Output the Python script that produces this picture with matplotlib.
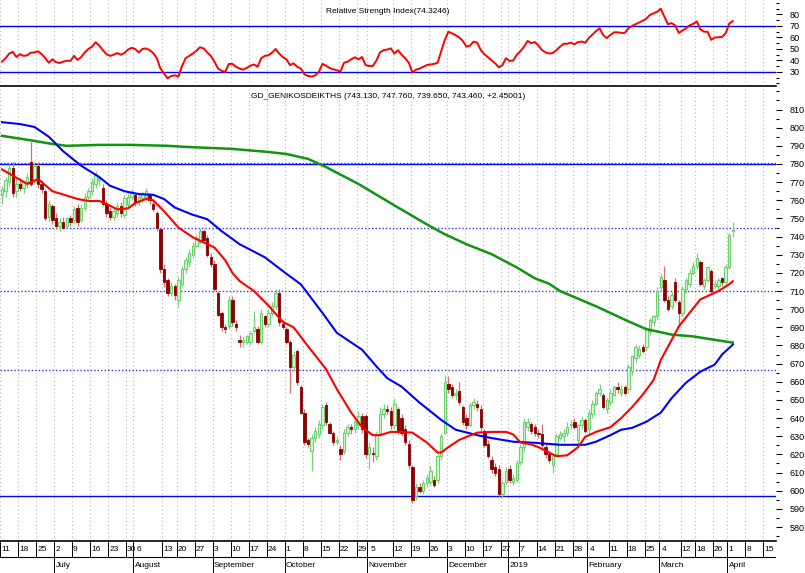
import numpy as np
import pandas as pd
import matplotlib
matplotlib.use('Agg')
import matplotlib.pyplot as plt
from matplotlib.ticker import MultipleLocator

plt.rcParams['font.family'] = ['Liberation Sans Narrow', 'Liberation Sans', 'DejaVu Sans']

# trading days (Athens exchange closed on these)
holidays = ['2018-08-15', '2018-12-24', '2018-12-25', '2018-12-26', '2018-12-31',
            '2019-01-01', '2019-03-11', '2019-03-25']
days = pd.bdate_range('2018-06-11', '2019-04-19')
days = days[~days.isin(pd.to_datetime(holidays))]

# daily candles, Jun 11 2018 .. Apr 2 2019, one row per week
opens = [763, 765, 770, 778, 765,  769, 767, 770, 781, 770,  779, 769, 765, 751, 757,
         750, 746, 748, 746, 750,  749, 756, 749, 756, 762,  765, 769, 771, 767, 758,
         754, 751, 753, 757, 752,  758, 762, 763, 759, 761,  762, 763, 758, 753, 744,
         722, 716, 709, 713,  705, 714, 722, 726, 730,  735, 737, 743, 739, 729,
         725, 709, 698, 690, 691,  705, 692, 683, 682, 682,  682, 688, 689, 682, 696,
         692, 698, 702, 709, 692,  689, 682, 668, 677, 657,  643, 628, 622, 629, 631,
         636, 647, 637, 632, 627,  623, 622, 632, 635, 634,  636, 641, 641, 620, 621,
         619, 632, 642, 645, 644,  636, 645, 640, 634, 626,  613, 597, 602, 600, 604,
         605, 606, 606, 619, 632,  659, 657, 653, 655, 646,  640, 636, 647, 648, 645,
         633, 626, 617, 613, 612,  598, 605,  612, 605, 606,  616, 624, 635, 637, 635,
         632, 631, 624, 620, 614,  620, 629, 630, 632, 636,  638, 628, 636, 639, 634,
         642, 648, 654, 653, 645,  649, 653, 657, 654, 657,  656, 666, 673, 675, 679,
         679, 688, 693, 696, 712,  716, 705, 702, 715, 704,  698, 711, 714, 720,
         724, 726, 713, 716, 721,  713, 713, 717, 715,  723, 743.13]
highs = [768, 773, 780, 781, 772,  772, 771, 775, 792, 781,  781, 771, 766, 760, 758,
         753, 750, 751, 751, 752,  757, 758, 758, 764, 767,  772, 776, 774, 769, 760,
         756, 756, 759, 759, 763,  764, 766, 764, 764, 765,  767, 764, 760, 754, 745,
         725, 717, 715, 714,  718, 724, 729, 733, 737,  741, 745, 744, 741, 731,
         727, 710, 699, 692, 707,  707, 694, 686, 685, 686,  688, 699, 691, 700, 697,
         700, 704, 711, 711, 694,  690, 683, 677, 678, 658,  645, 629, 631, 635, 639,
         648, 649, 638, 633, 630,  625, 634, 637, 637, 640,  644, 643, 642, 627, 624,
         633, 646, 648, 647, 646,  651, 646, 642, 636, 628,  614, 604, 604, 606, 609,
         614, 608, 621, 632, 664,  663, 659, 656, 660, 647,  642, 649, 651, 650, 647,
         634, 628, 619, 615, 614,  606, 613,  614, 609, 617,  626, 640, 640, 638, 637,
         634, 637, 626, 622, 620,  632, 633, 634, 638, 639,  640, 637, 641, 640, 645,
         650, 655, 659, 654, 651,  656, 658, 660, 658, 658,  670, 675, 681, 680, 681,
         690, 695, 697, 712, 720,  724, 707, 710, 717, 705,  713, 717, 722, 726,
         731, 727, 717, 724, 722,  716, 717, 718, 725,  742, 747.76]
lows = [758, 762, 768, 762, 762,  765, 764, 767, 768, 769,  767, 764, 749, 748, 747,
        744, 743, 744, 745, 746,  747, 746, 748, 754, 760,  763, 767, 768, 757, 751,
        749, 749, 751, 751, 750,  756, 760, 757, 757, 759,  760, 758, 754, 743, 720,
        712, 707, 707, 705,  701, 712, 720, 723, 728,  734, 736, 737, 729, 723,
        710, 696, 688, 687, 689,  691, 688, 679, 679, 681,  680, 687, 681, 681, 690,
        690, 696, 700, 691, 689,  681, 654, 666, 658, 642,  625, 624, 611, 627, 629,
        634, 636, 631, 625, 625,  617, 620, 630, 631, 632,  634, 632, 618, 612, 616,
        617, 630, 640, 642, 634,  634, 631, 630, 625, 612,  593, 595, 599, 598, 602,
        603, 602, 604, 617, 631,  654, 651, 650, 647, 636,  634, 635, 645, 644, 633,
        624, 618, 610, 608, 597,  596, 603,  604, 603, 605,  614, 622, 633, 631, 630,
        629, 623, 618, 615, 610,  619, 628, 627, 630, 634,  634, 626, 634, 632, 632,
        640, 647, 652, 645, 643,  647, 652, 654, 652, 653,  654, 664, 671, 673, 676,
        677, 686, 691, 694, 710,  704, 699, 700, 704, 690,  696, 709, 712, 719,
        722, 713, 711, 715, 709,  711, 711, 713, 713,  722, 739.65]
closes = [766, 771, 778, 764, 769,  767, 770, 773, 769, 779,  769, 766, 750, 758, 749,
          746, 748, 745, 750, 748,  755, 748, 756, 762, 765,  770, 774, 772, 758, 753,
          751, 754, 757, 753, 761,  762, 764, 759, 762, 764,  765, 760, 755, 745, 722,
          715, 709, 713, 708,  716, 722, 727, 731, 735,  739, 743, 738, 730, 725,
          711, 697, 690, 689, 705,  693, 690, 682, 683, 685,  687, 690, 682, 698, 692,
          698, 702, 709, 693, 690,  682, 668, 675, 660, 643,  627, 626, 629, 633, 637,
          646, 638, 632, 627, 628,  620, 632, 635, 634, 638,  641, 634, 620, 624, 620,
          631, 642, 645, 644, 636,  648, 633, 632, 627, 614,  595, 602, 600, 604, 607,
          611, 603, 619, 630, 660,  656, 653, 654, 649, 638,  636, 647, 649, 646, 635,
          625, 619, 612, 610, 598,  604, 611,  606, 607, 615,  624, 638, 638, 633, 632,
          631, 625, 620, 617, 619,  630, 631, 632, 635, 636.5,  635, 636, 639, 633, 643,
          648, 654, 656, 646, 650,  654, 657, 656, 656, 654,  668, 674, 679, 678, 677,
          689, 694, 696, 710, 718,  705, 700, 708, 705, 698,  711, 716, 720, 724,
          728, 714, 716, 723, 710,  714, 716, 715, 723,  741.01, 743.46]

# moving averages, read at bar numbers
red_bar = [0, 7, 10, 14, 21, 24, 27, 29, 32, 35, 37, 40, 42, 45, 49, 53, 59, 62, 64, 66,
           70, 74, 78, 81, 85, 90, 93, 97, 100, 103, 105, 108, 111, 114, 118, 121, 122,
           124, 127, 132, 136, 140, 142, 144, 147, 149, 152, 154, 157, 160, 162, 165,
           169, 172, 175, 178, 181, 183, 186, 188, 191, 194, 199, 202, 203]
red_ma = [777, 769, 771.7, 765, 760.7, 759.6, 759.6, 758, 755, 755.5, 758.5, 760.7, 760,
          754, 745, 739.6, 734, 727, 720, 715.5, 710, 702, 693, 690, 679.6, 667, 656, 643,
          635, 630.6, 630.6, 632.4, 632.4, 632, 626.6, 621, 621, 624, 628, 632, 632.4,
          632.4, 631, 626.6, 625.5, 624, 621, 619, 619.5, 624, 629.7, 632.4, 635, 640,
          646, 653, 661, 672, 683, 690.5, 698, 705.4, 710, 713.7, 715.4]
blue_bar = [0, 5, 9, 13, 17, 22, 27, 30, 34, 38, 42, 45, 48, 53, 57, 61, 66, 73, 78, 83,
            89, 93, 96, 100, 104, 107, 111, 116, 122, 126, 132, 136, 142, 148, 155, 162,
            165, 169, 172, 175, 179, 183, 186, 190, 194, 198, 200, 203]
blue_ma = [803, 802, 800.4, 795, 787, 779, 772.8, 768, 765, 763.4, 763, 760.7, 756, 752,
           749.6, 743, 735.8, 728.6, 721, 713.7, 698, 687, 683, 677.7, 668.5, 662, 657.3,
           648.5, 639, 633.6, 630.6, 629, 627, 626.4, 625.3, 625.3, 627, 630.6, 633.6,
           634.6, 638, 643, 651, 659.5, 665.6, 669.5, 675, 680.5]
green_bar = [0, 9, 14, 18, 27, 36, 46, 51, 64, 74, 79, 85, 90, 99, 110, 119, 123, 129,
             136, 143, 148, 152, 155, 165, 174, 179, 186, 192, 199, 203]
green_ma = [795.5, 792.7, 791, 790, 790.5, 790.5, 790, 789.4, 788.3, 786.6, 785.5, 782.8,
            778.3, 769, 756, 745.6, 741.3, 735.8, 730.3, 723, 717, 714, 710, 701.6, 693.3,
            689, 686, 685, 682.8, 681.6]

rsi = [39, 42, 46, 47.5, 43,  45.5, 44, 44.5, 46.8, 47,  48, 45.6, 42, 38, 41,
       38.5, 37.8, 39, 39.8, 39.6,  44, 40.5, 43, 47, 50,  52, 55.8, 53, 49, 45.5,
       44, 45, 46.5, 45, 46.5,  49.5, 51, 50, 47, 50,  50.5, 49, 46.5, 42, 33,
       28.7, 24.5, 26.5, 27,  26, 35, 42, 44, 46,  48.5, 51.5, 50.5, 47, 44,
       39, 33, 31, 30, 37,  37, 34.6, 33, 32, 33.5,  35.5, 36.5, 34.5, 42, 44,
       44.5, 46.8, 50, 46, 43,  41, 36, 37.5, 34.5, 33,  28, 26.5, 26, 27, 30,
       37, 35.5, 33.5, 32.3, 31.5,  30.3, 38, 39, 41, 42.8,  41, 43, 36, 35.2, 35.2,
       40, 47, 49, 49.5, 50.5,  46, 49, 45, 42, 38,  29.5, 32, 33, 34.5, 36,
       36.5, 37, 38, 48, 58,  65, 63.6, 62, 60, 57,  52, 53, 56.4, 55.5, 49,
       45.5, 42.8, 40, 37.5, 34,  36, 42,  39.6, 40, 45,  48, 52, 57, 55, 56,
       53, 49, 47, 46, 46.5,  49, 52, 54.5, 54.5, 55.5,  54, 56, 56.4, 55.5, 59.5,
       62.5, 65.5, 68, 62, 59.5,  62.2, 64.5, 64.5, 64, 64,  68, 70, 71.5, 73, 74.6,
       76.5, 79.6, 81, 82.4, 85,  78, 71.5, 72.5, 70.5, 64,  66, 68, 70.5, 71.8,
       74, 67, 65, 65, 58,  60, 60.2, 60.5, 63.6,  72, 74.3246]

# horizontal support / resistance levels
solid_levels = [780, 597]
dotted_levels = [780.6, 745, 710, 666.5]

# date axis
week_text = ['11', '18', '25', '2', '9', '16', '23', '30', '6', '13', '20', '27', '3', '10',
             '17', '24', '1', '8', '15', '22', '29', '5', '12', '19', '26', '3', '10', '17',
             '27', '', '7', '14', '21', '28', '4', '11', '18', '25', '4', '12', '18', '26',
             '1', '8', '15']
week_at = ['2018-06-11', '2018-06-18', '2018-06-25', '2018-07-02', '2018-07-09', '2018-07-16',
           '2018-07-23', '2018-07-30', '2018-08-01', '2018-08-13', '2018-08-20', '2018-08-27',
           '2018-09-03', '2018-09-10', '2018-09-17', '2018-09-24', '2018-10-01', '2018-10-08',
           '2018-10-15', '2018-10-22', '2018-10-29', '2018-11-01', '2018-11-12', '2018-11-19',
           '2018-11-26', '2018-12-03', '2018-12-10', '2018-12-17', '2018-12-27', '2019-01-02',
           '2019-01-07', '2019-01-14', '2019-01-21', '2019-01-28', '2019-02-01', '2019-02-11',
           '2019-02-18', '2019-02-25', '2019-03-01', '2019-03-12', '2019-03-18', '2019-03-26',
           '2019-04-01', '2019-04-08', '2019-04-15']
month_text = ['July', 'August', 'September', 'October', 'November', 'December', '2019',
              'February', 'March', 'April']
month_at = ['2018-07-02', '2018-08-01', '2018-09-03', '2018-10-01', '2018-11-01', '2018-12-03',
            '2019-01-02', '2019-02-01', '2019-03-01', '2019-04-01']

week_pos = [days.get_loc(pd.Timestamp(d)) - 0.5 for d in week_at]
month_pos = [days.get_loc(pd.Timestamp(d)) - 0.5 for d in month_at]
# a month that starts mid-week pushes that week's label past its line
week_pad = [0.9 if (d in month_at and pd.Timestamp(d).weekday() != 0) else 0.25
            for d in week_at]

W, H = 805, 573
fig = plt.figure(figsize=(W / 100, H / 100), dpi=100)
axr = fig.add_axes([0, 1 - 86 / H, 776 / W, 86 / H])
ax = fig.add_axes([0, 32 / H, 776 / W, 454 / H])
axd = fig.add_axes([0, 0, 776 / W, 32 / H])

xlim = (-0.56, 215)
grid_kw = dict(color='#b8b8b8', lw=0.8, linestyle=(0, (1, 2.5)), zorder=0)

# ---- RSI panel
for p in week_pos:
    axr.axvline(p, **grid_kw)
axr.axhline(70, color='#0000ff', lw=1)
axr.axhline(30, color='#0000ff', lw=1)
axr.plot(np.arange(len(rsi)), rsi, color='#ff0000', lw=1.4, zorder=3)
axr.set_xlim(xlim)
axr.set_ylim(17.8, 92.6)
axr.text(0.5, 0.87, 'Relative Strength Index(74.3246)', transform=axr.transAxes,
         ha='center', va='center', fontsize=6)

# ---- price panel
for p in week_pos:
    ax.axvline(p, **grid_kw)
for lv in solid_levels:
    ax.axhline(lv, color='#0000ff', lw=1, zorder=1)
for lv in dotted_levels:
    ax.axhline(lv, color='#3333ff', lw=1, linestyle=(0, (1, 1.5)), zorder=1)

x = np.arange(len(closes))
o = np.array(opens, float)
c = np.array(closes, float)
hi = np.array(highs, float)
lo = np.array(lows, float)
up = c >= o
dn = ~up

ax.vlines(x[up], lo[up], hi[up], color='#7ad67a', lw=0.9, zorder=2)
ax.vlines(x[dn], lo[dn], hi[dn], color='#d07070', lw=0.9, zorder=2)
ax.bar(x[up], np.maximum(c[up] - o[up], 0.4), bottom=o[up], width=0.7,
       color='#d6f6d6', edgecolor='#6fcf6f', lw=0.8, zorder=3)
ax.bar(x[dn], np.maximum(o[dn] - c[dn], 0.4), bottom=c[dn], width=0.7,
       color='#8b0000', edgecolor='#8b0000', lw=0.6, zorder=3)

ax.plot(green_bar, green_ma, color='#129412', lw=1.8, zorder=4)
ax.plot(blue_bar, blue_ma, color='#0000ff', lw=1.5, zorder=4)
ax.plot(red_bar, red_ma, color='#ff0000', lw=1.5, zorder=4)

ax.set_xlim(xlim)
ax.set_ylim(572.3, 822.4)
ax.text(0.5, 0.98, 'GD_GENIKOSDEIKTHS (743.130, 747.760, 739.650, 743.460, +2.45001)',
        transform=ax.transAxes, ha='center', va='center', fontsize=6)

for a in (axr, ax):
    a.set_xticks([])
    for s in ('top', 'left', 'right'):
        a.spines[s].set_visible(False)
    a.spines['bottom'].set_linewidth(1.2)
    a.yaxis.tick_right()
    a.tick_params(axis='y', which='major', direction='out', length=4, width=0.8,
                  labelsize=6.5, pad=6)
    a.tick_params(axis='y', which='minor', direction='out', length=2, width=0.8)
    a.yaxis.set_minor_locator(MultipleLocator(5))
ax.set_yticks(range(580, 811, 10))
axr.set_yticks(range(30, 81, 10))

# ---- date strip
axd.set_xlim(xlim)
axd.set_ylim(0, 1)
axd.axis('off')
axd.axhline(0.5, color='k', lw=0.8)
for p, t, pad in zip(week_pos, week_text, week_pad):
    axd.plot([p, p], [0.5, 1], color='k', lw=0.7)
    axd.text(p + pad, 0.74, t, ha='left', va='center', fontsize=6)
for p, t in zip(month_pos, month_text):
    axd.plot([p, p], [0, 1], color='k', lw=0.7)
    axd.text(p + 0.4, 0.22, t, ha='left', va='center', fontsize=6)

fig.savefig('out.png', dpi=100)
